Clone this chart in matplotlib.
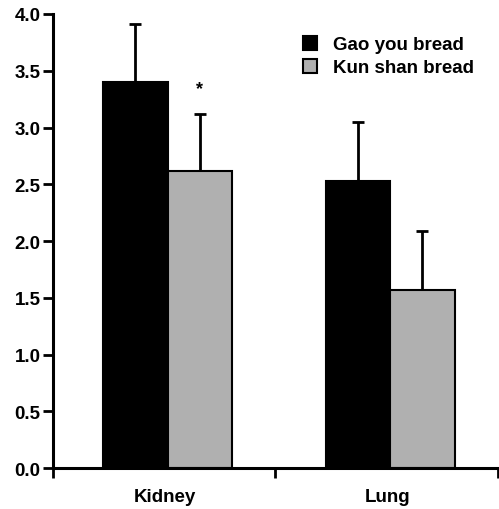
import numpy as np
import matplotlib.pyplot as plt

plt.rcParams['font.family'] = ['Liberation Sans', 'DejaVu Sans']
plt.rcParams['font.weight'] = 'bold'

categories = ['Kidney', 'Lung']
gaoyou = [3.40, 2.53]
gaoyou_err = [0.51, 0.52]
kunshan = [2.62, 1.57]
kunshan_err = [0.50, 0.52]
series = ['Gao you bread', 'Kun shan bread']

fig = plt.figure(figsize=(4.99, 5.10), dpi=100)
ax = fig.add_axes([0.106, 0.080, 0.892, 0.8906])

centers = np.arange(len(categories)) + 0.515
w = 0.29
ax.bar(centers - w / 2, gaoyou, w, color='black', edgecolor='black', linewidth=1.5,
       label=series[0], zorder=2)
ax.bar(centers + w / 2, kunshan, w, color='#b0b0b0', edgecolor='black', linewidth=1.5,
       label=series[1], zorder=2)
ax.errorbar(centers - w / 2, gaoyou, yerr=[np.zeros(2), gaoyou_err], fmt='none',
            ecolor='black', elinewidth=2, capsize=4.5, capthick=2, zorder=1)
ax.errorbar(centers + w / 2, kunshan, yerr=[np.zeros(2), kunshan_err], fmt='none',
            ecolor='black', elinewidth=2, capsize=4.5, capthick=2, zorder=1)

ax.text(centers[0] + w / 2, 3.27, '*', ha='center', va='bottom', fontsize=13)

ax.set_xlim(0, 2)
ax.set_ylim(0, 4.0)
ax.set_yticks(np.arange(0, 4.01, 0.5))
ax.set_yticklabels([f'{v:.1f}' for v in np.arange(0, 4.01, 0.5)], fontsize=13.5)
ax.set_xticks([0, 1, 2])
ax.set_xticklabels([])
ax.set_xticks(centers - 0.01, minor=True)
ax.set_xticklabels(categories, minor=True, fontsize=13.5)
ax.tick_params(axis='x', which='minor', length=0, pad=14)
ax.tick_params(axis='x', which='major', length=7, width=2)
ax.tick_params(axis='y', length=7, width=2, pad=2)

for s in ['top', 'right']:
    ax.spines[s].set_visible(False)
for s in ['left', 'bottom']:
    ax.spines[s].set_linewidth(2.2)
ax.spines['left'].set_bounds(0, 4.0)

ax.legend(loc='upper left', bbox_to_anchor=(0.562, 0.952), frameon=False, fontsize=13.5,
          handlelength=0.75, handleheight=0.75, handletextpad=0.85, labelspacing=0.3,
          borderaxespad=0, borderpad=0)

fig.savefig('out.png', dpi=100)
